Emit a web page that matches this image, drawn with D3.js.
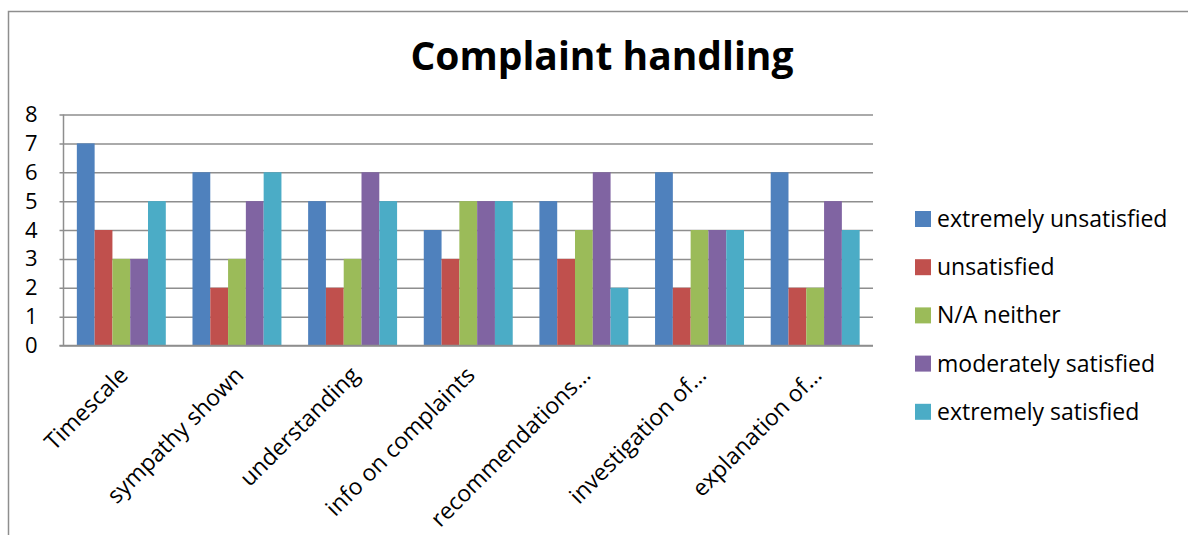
<!DOCTYPE html>
<html>
<head>
<meta charset="utf-8">
<script src="https://cdnjs.cloudflare.com/ajax/libs/d3/7.8.5/d3.min.js"></script>
<style>
  body { margin: 0; background: #fff; }
  text { font-family: "Open Sans", Lato, sans-serif; }
</style>
</head>
<body>
<div id="chart"></div>
<script>
// data
const categories = ["Timescale", "sympathy shown", "understanding", "info on complaints",
    "recommendations…", "investigation of…", "explanation of…"];
const series = ["extremely unsatisfied", "unsatisfied", "N/A neither", "moderately satisfied", "extremely satisfied"];
const extremelyUnsatisfied = [7, 6, 5, 4, 5, 6, 6];
const unsatisfied = [4, 2, 2, 3, 3, 2, 2];
const naNeither = [3, 3, 3, 5, 4, 4, 2];
const moderatelySatisfied = [3, 5, 6, 5, 6, 4, 5];
const extremelySatisfied = [5, 6, 5, 5, 2, 4, 4];
const yTicks = [0, 1, 2, 3, 4, 5, 6, 7, 8];
const colors = ["#4F81BD", "#C0504D", "#9BBB59", "#8064A2", "#4BACC6"];

const seriesValues = [extremelyUnsatisfied, unsatisfied, naNeither, moderatelySatisfied, extremelySatisfied];
const data = categories.map((c, i) => {
    const row = { category: c };
    series.forEach((s, j) => { row[s] = seriesValues[j][i]; });
    return row;
});

const W = 1188, H = 535;
const margin = { top: 114.5, right: 315, bottom: 189.5, left: 63.5 };
const width = W - margin.left - margin.right,
    height = H - margin.top - margin.bottom;

const svg = d3.select("#chart").append("svg")
    .attr("width", W)
    .attr("height", H);

// chart area border (only left and top are inside the picture)
svg.append("path")
    .attr("d", `M8.5,${H} V11.5 H${W}`)
    .attr("fill", "none")
    .attr("stroke", "#8e8e8e")
    .attr("stroke-width", 1.5);

// title
svg.append("text")
    .attr("x", 602)
    .attr("y", 70)
    .attr("text-anchor", "middle")
    .attr("font-size", "39px")
    .attr("font-weight", "bold")
    .attr("fill", "#000")
    .text("Complaint handling");

const g = svg.append("g")
    .attr("transform", `translate(${margin.left},${margin.top})`);

const x0 = d3.scaleBand()
    .domain(categories)
    .range([0, width]);

const x1 = d3.scaleBand()
    .domain(series)
    .range([0, x0.bandwidth()])
    .paddingOuter(0.75);

const y = d3.scaleLinear()
    .domain([0, 8])
    .range([height, 0]);

const color = d3.scaleOrdinal()
    .domain(series)
    .range(colors);

// y axis with gridlines
const yAxis = g.append("g")
    .call(d3.axisLeft(y).tickValues(yTicks).tickSize(-width - 4).tickPadding(22).tickFormat(d3.format("d")))
    .attr("transform", "translate(-4,0)")
    .attr("font-size", null)
    .attr("font-family", null);
yAxis.select(".domain").remove();
yAxis.selectAll(".tick line")
    .attr("x1", 0)
    .attr("x2", width + 4)
    .attr("stroke", "#8e8e8e")
    .attr("stroke-width", 1.5);
yAxis.selectAll(".tick text")
    .attr("font-size", "22px")
    .attr("fill", "#000");

// left axis line
g.append("line")
    .attr("x1", 0).attr("x2", 0)
    .attr("y1", 0).attr("y2", height)
    .attr("stroke", "#8e8e8e")
    .attr("stroke-width", 1.5);

// bars
g.append("g")
    .selectAll("g")
    .data(data)
    .join("g")
    .attr("transform", d => `translate(${x0(d.category)},0)`)
    .selectAll("rect")
    .data(d => series.map(key => ({ key: key, value: d[key] })))
    .join("rect")
    .attr("x", d => x1(d.key))
    .attr("y", d => y(d.value))
    .attr("width", x1.bandwidth())
    .attr("height", d => height - y(d.value))
    .attr("fill", d => color(d.key));

// bottom axis line
g.append("line")
    .attr("x1", -4).attr("x2", width)
    .attr("y1", height).attr("y2", height)
    .attr("stroke", "#8e8e8e")
    .attr("stroke-width", 1.5);

// rotated category labels
g.append("g")
    .selectAll("text")
    .data(categories)
    .join("text")
    .attr("transform", d => `translate(${x0(d) + x0.bandwidth() / 2 + 8},${height + 31}) rotate(-45)`)
    .attr("text-anchor", "end")
    .attr("font-size", "23px")
    .attr("fill", "#000")
    .text(d => d);

// legend
const legend = svg.append("g")
    .attr("transform", "translate(915,211)")
    .selectAll("g")
    .data(series)
    .join("g")
    .attr("transform", (d, i) => `translate(0,${i * 48.2})`);

legend.append("rect")
    .attr("width", 16)
    .attr("height", 16)
    .attr("fill", d => color(d));

legend.append("text")
    .attr("x", 22)
    .attr("y", 16)
    .attr("font-size", "23px")
    .attr("fill", "#000")
    .text(d => d);
</script>
</body>
</html>
